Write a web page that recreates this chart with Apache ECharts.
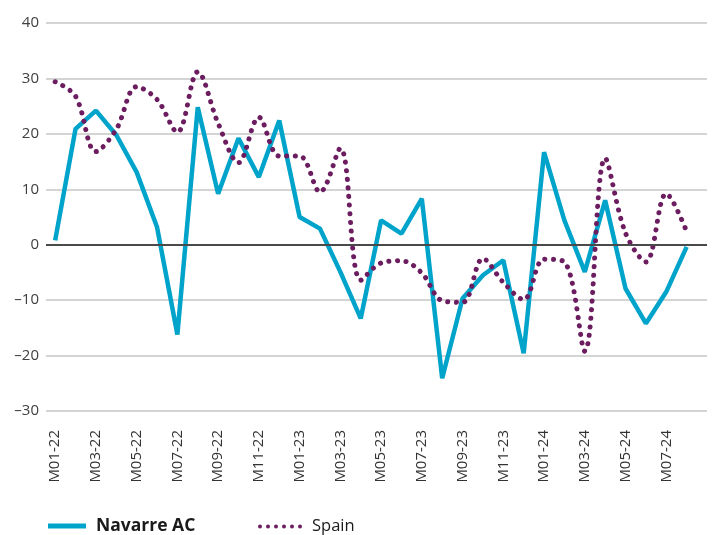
<!DOCTYPE html>
<html>
<head>
<meta charset="utf-8">
<script src="https://cdn.jsdelivr.net/npm/echarts@6/dist/echarts.min.js"></script>
<style>
  html, body { margin: 0; padding: 0; background: #fff; }
  #chart-container { width: 713px; height: 535px; }
</style>
</head>
<body>
<div id="chart-container"></div>
<script>
// monthly categories, M01-22 .. M08-24
var months = [
  'M01-22', 'M02-22', 'M03-22', 'M04-22', 'M05-22', 'M06-22', 'M07-22', 'M08-22',
  'M09-22', 'M10-22', 'M11-22', 'M12-22', 'M01-23', 'M02-23', 'M03-23', 'M04-23',
  'M05-23', 'M06-23', 'M07-23', 'M08-23', 'M09-23', 'M10-23', 'M11-23', 'M12-23',
  'M01-24', 'M02-24', 'M03-24', 'M04-24', 'M05-24', 'M06-24', 'M07-24', 'M08-24'
];

var navarre = [
  0.8, 20.9, 24.2, 19.8, 13.1, 3.2, -16.2, 24.8,
  9.2, 19.2, 12.2, 22.4, 5.0, 2.9, -4.9, -13.3,
  4.4, 2.0, 8.3, -24.1, -9.7, -5.5, -2.8, -19.6,
  16.7, 4.4, -4.9, 8.0, -7.9, -14.2, -8.5, -0.4
];

var spain = [
  29.4, 26.8, 16.8, 20.8, 28.5, 26.2, 20.3, 31.2,
  21.9, 14.8, 23.0, 16.0, 16.0, 9.5, 17.4, -6.4,
  -3.3, -2.9, -5.1, -10.1, -10.4, -2.5, -6.8, -9.9,
  -2.6, -3.1, -19.2, 15.6, 2.1, -3.1, 9.2, 2.4
];

// every other month gets a label
var labelIdx = months.map(function (m, i) { return i; }).filter(function (i) { return i % 2 === 0; });

var dom = document.getElementById('chart-container');
var myChart = echarts.init(dom, null, { renderer: 'canvas' });

var font = "'Open Sans', 'Noto Sans', sans-serif";
// six little dots for the Spain legend key
var dots = 'path://';
for (var k = 0; k < 6; k++) {
  dots += 'M' + (k * 8) + ',2a2,2 0 1,0 4,0a2,2 0 1,0 -4,0';
}

var option = {
  animation: false,
  textStyle: { fontFamily: font },
  grid: { left: 46, right: 6, top: 23, bottom: 124 },
  legend: [
    {
      data: [{ name: 'Navarre AC', icon: 'rect' }],
      left: 48, top: 517, padding: 0,
      itemWidth: 38, itemHeight: 5,
      textStyle: {
        fontSize: 17.5, fontWeight: 'bold', color: '#1a1a1a', fontFamily: font,
        padding: [0, 0, 11, 5]
      }
    },
    {
      data: [{ name: 'Spain', icon: dots }],
      left: 258, top: 518, padding: 0,
      itemWidth: 44, itemHeight: 4,
      textStyle: {
        fontSize: 16.5, color: '#1a1a1a', fontFamily: font,
        padding: [0, 0, 11, 5]
      }
    }
  ],
  xAxis: {
    type: 'value',
    min: -0.45,
    max: 32,
    axisLine: { show: false },
    axisTick: { show: false },
    splitLine: { show: false },
    axisLabel: {
      customValues: labelIdx,
      rotate: 90,
      margin: 19,
      fontSize: 15,
      color: '#333',
      padding: [8, 0, 0, 0],
      formatter: function (v) { return months[v]; }
    }
  },
  yAxis: {
    type: 'value',
    min: -30,
    max: 40,
    interval: 10,
    axisLine: { show: false },
    axisTick: { show: false },
    axisLabel: {
      fontSize: 15,
      color: '#404040',
      margin: 7,
      formatter: function (v) { return String(v).replace('-', '\u2013'); }
    },
    splitLine: { lineStyle: { color: '#c6c6c6', width: 1.5 } }
  },
  series: [
    {
      name: 'Navarre AC',
      type: 'line',
      showSymbol: false,
      data: navarre.map(function (v, i) { return [i, v]; }),
      itemStyle: { color: '#00a3c9' },
      lineStyle: { color: '#00a3c9', width: 4.5 },
      markLine: {
        silent: true,
        symbol: ['none', 'none'],
        label: { show: false },
        lineStyle: { color: '#4a4a4a', width: 2, type: 'solid' },
        data: [{ yAxis: 0 }]
      }
    },
    {
      name: 'Spain',
      type: 'line',
      smooth: 0.35,
      showSymbol: false,
      data: spain.map(function (v, i) { return [i, v]; }),
      itemStyle: { color: '#6b1d5f' },
      lineStyle: { color: '#6b1d5f', width: 5, type: [0.1, 8.5], cap: 'round' }
    }
  ]
};

myChart.setOption(option);
window.addEventListener('resize', myChart.resize);
</script>
</body>
</html>
